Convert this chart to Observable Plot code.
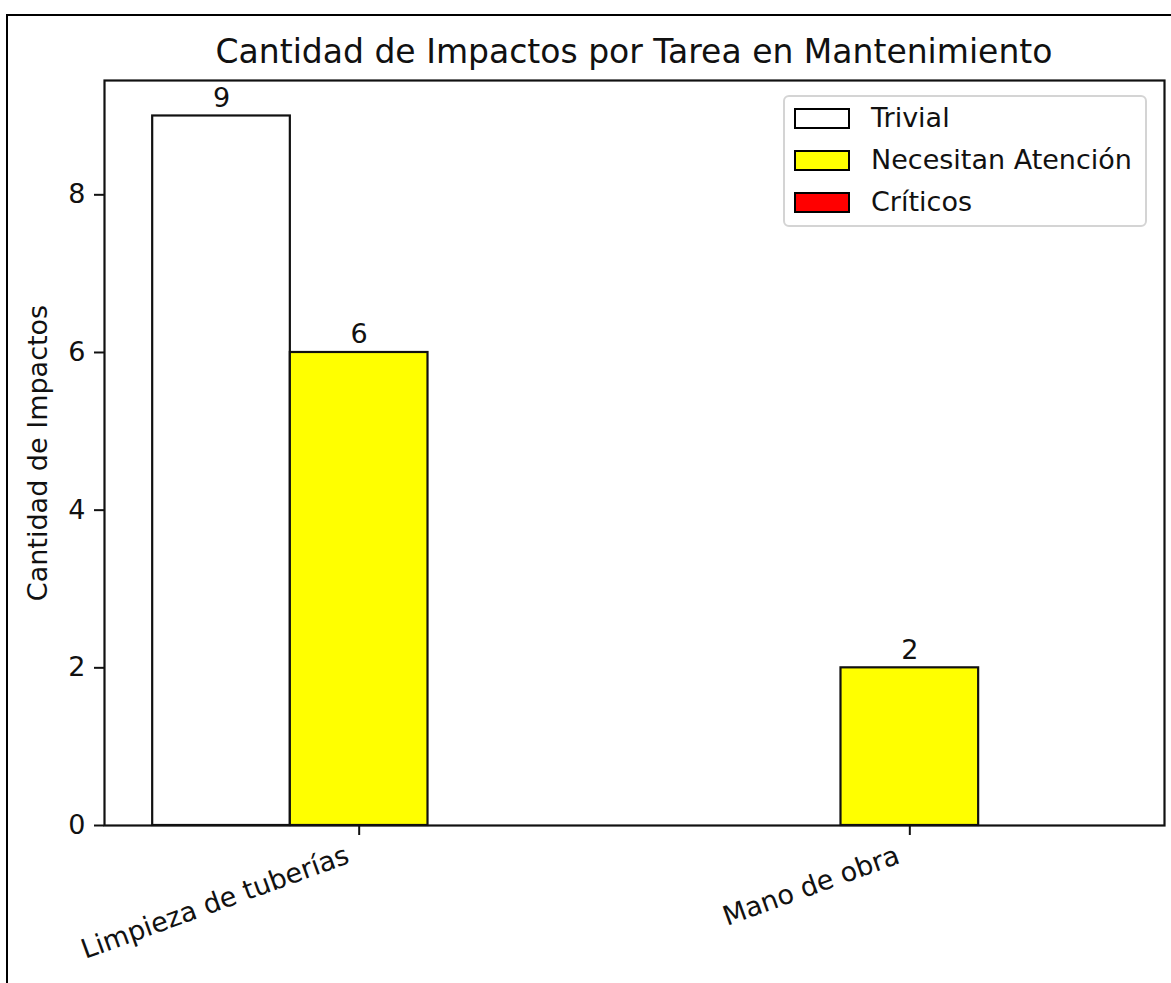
<!DOCTYPE html>
<html><head><meta charset="utf-8">
<script src="https://cdn.jsdelivr.net/npm/d3@7"></script>
<script src="https://cdn.jsdelivr.net/npm/@observablehq/plot@0.6"></script>
<style>
html,body{margin:0;padding:0;background:#fff;}
#wrap{position:relative;width:1171px;height:983px;overflow:hidden;font-family:"DejaVu Sans",sans-serif;color:#111;}
#chart{position:absolute;left:0;top:0;}
#border{position:absolute;left:6px;top:14px;width:2000px;height:2000px;border-left:2px solid #000;border-top:2px solid #000;}
#title{position:absolute;left:104px;width:1060px;top:35px;font-size:33px;line-height:33px;text-align:center;white-space:nowrap;}
#legend{position:absolute;left:783px;top:95px;width:364px;height:132px;box-sizing:border-box;border:2px solid #d4d4d4;border-radius:6px;background:rgba(255,255,255,0.8);padding-top:1px;}
.row{display:flex;align-items:center;height:41.7px;}
.patch{width:56px;height:21px;box-sizing:border-box;border:2px solid #000;margin-left:9px;margin-right:21px;}
.lab{font-size:27px;line-height:27px;position:relative;top:-1px;}
</style></head>
<body><div id="wrap"><div id="chart"></div><div id="border"></div><div id="title"></div><div id="legend"></div></div>
<script>
const categories = ["Limpieza de tuberías", "Mano de obra"];
const seriesNames = ["Trivial", "Necesitan Atención", "Críticos"];
const seriesColors = ["#ffffff", "#ffff00", "#ff0000"];
const trivial = [9, 0];
const necesitanAtencion = [6, 2];
const criticos = [0, 0];
const yTicks = [0, 2, 4, 6, 8];
const titleText = "Cantidad de Impactos por Tarea en Mantenimiento";
const yLabel = "Cantidad de Impactos";

const seriesValues = [trivial, necesitanAtencion, criticos];
const barWidth = 0.25;
const rows = [];
seriesNames.forEach((s, si) => categories.forEach((c, ci) => {
  const center = ci + (si - 1) * barWidth;
  rows.push({series: s, category: c, value: seriesValues[si][ci], x1: center - barWidth / 2, x2: center + barWidth / 2, xc: center});
}));
const catRows = categories.map((c, i) => ({category: c, i}));

const plot = Plot.plot({
  width: 1171, height: 983,
  marginLeft: 104, marginRight: 7, marginTop: 80, marginBottom: 158,
  style: {fontFamily: "DejaVu Sans", fontSize: "27px", color: "#111", background: "transparent"},
  x: {domain: [-0.4625, 1.4625]},
  y: {domain: [0, 9.45]},
  color: {domain: seriesNames, range: seriesColors},
  marks: [
    Plot.rectY(rows, {x1: "x1", x2: "x2", y1: 0, y2: "value", fill: "series", stroke: "#111", strokeWidth: 2.2}),
    Plot.text(rows.filter(d => d.value > 0), {x: "xc", y: "value", text: d => String(d.value), lineAnchor: "bottom", dy: -9, fontSize: 27, fill: "#111"}),
    Plot.frame({stroke: "#111", strokeWidth: 2.2}),
    Plot.axisY({ticks: yTicks, tickSize: 10, tickPadding: 9, tickFormat: d => String(d), label: null, fontSize: 27, strokeWidth: 2}),
    Plot.axisX({ticks: [0, 1], tickSize: 10, tickFormat: () => "", label: null, strokeWidth: 2}),
    Plot.text(catRows, {x: "i", frameAnchor: "bottom", text: "category", rotate: -20, textAnchor: "end", lineAnchor: "top", dx: -15, dy: 19, fontSize: 27, fill: "#111"}),
    Plot.text([yLabel], {frameAnchor: "left", text: d => d, rotate: -90, textAnchor: "middle", lineAnchor: "middle", dx: -66, fontSize: 27, fill: "#111"})
  ]
});
document.getElementById("chart").appendChild(plot);
document.getElementById("title").textContent = titleText;
const leg = document.getElementById("legend");
seriesNames.forEach((s, i) => {
  const r = document.createElement("div"); r.className = "row";
  const p = document.createElement("div"); p.className = "patch"; p.style.background = seriesColors[i];
  const l = document.createElement("span"); l.className = "lab"; l.textContent = s;
  r.appendChild(p); r.appendChild(l); leg.appendChild(r);
});
</script>
</body></html>
